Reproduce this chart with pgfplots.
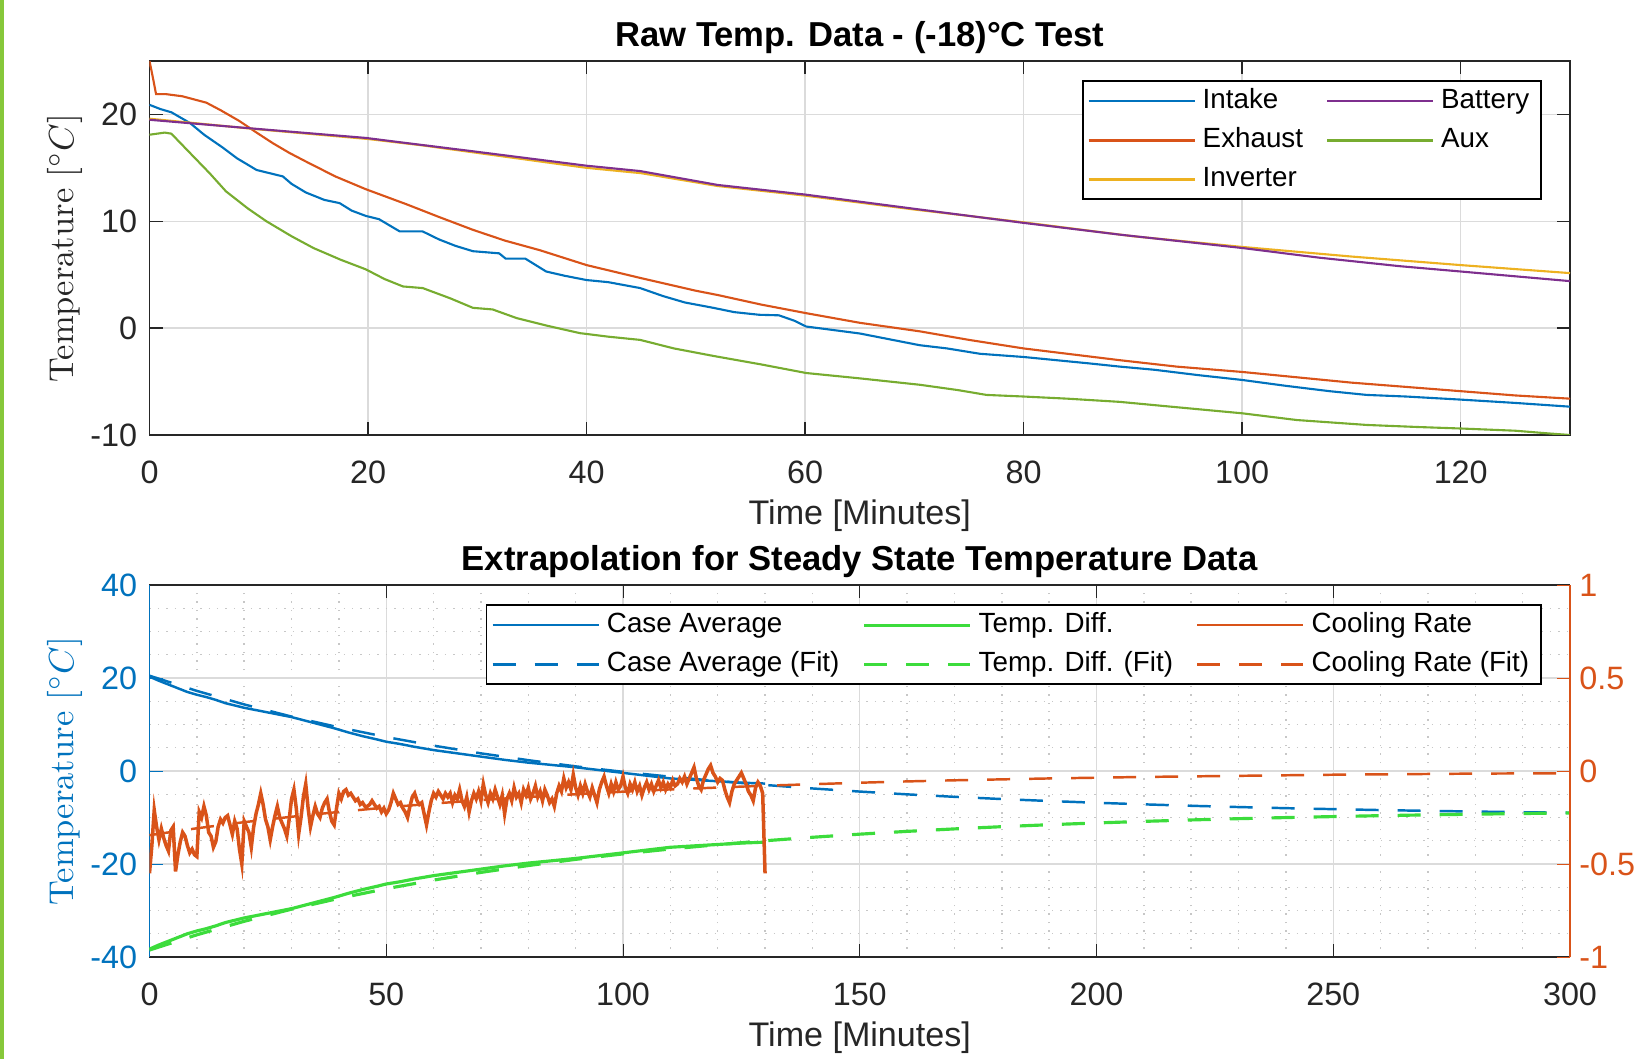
\documentclass[border=0pt]{standalone}
\usepackage{fontspec}
\setsansfont{Liberation Sans}
\usepackage{pgfplots}
\pgfplotsset{compat=1.18}
\definecolor{mblue}{HTML}{0072BD}
\definecolor{morange}{HTML}{D95319}
\definecolor{myellow}{HTML}{EDB120}
\definecolor{mpurple}{HTML}{7E2F8E}
\definecolor{mgreen}{HTML}{77AC30}
\definecolor{tgreen}{HTML}{3CDC3C}
\definecolor{mdark}{HTML}{262626}
\definecolor{lborder}{HTML}{86C83A}

\pgfplotsset{
  mlab/.style={scale only axis, width=142.05mm, anchor=south west,
    tick align=inside, major tick length=1.3mm, minor tick length=0mm,
    every axis title shift=0pt,
    /pgf/number format/assume math mode=true,
    tick label style={font=\sffamily\fontsize{9.2}{10}\selectfont, text=mdark},
    xticklabel style={yshift=-1.4mm},
    yticklabel style={xshift=0mm},
    xlabel style={font=\sffamily\fontsize{9.7}{11}\selectfont, text=mdark,
      at={(axis description cs:0.5,0)}, anchor=center, yshift=-8.1mm},
    ylabel style={font=\rmfamily\fontsize{9.8}{11}\selectfont,
      at={(axis description cs:0,0.5)}, anchor=center, yshift=8.5mm},
    title style={font=\sffamily\bfseries\fontsize{9.85}{11}\selectfont, text=black,
      at={(axis description cs:0.5,1)}, anchor=center, yshift=2.3mm},
    legend style={font=\sffamily\fontsize{7.9}{9}\selectfont, draw=black, line width=0.5pt,
      at={(1,1)}, anchor=north east, xshift=-2.8mm, yshift=-1.95mm,
      inner ysep=0pt, inner xsep=1.4pt,
      /tikz/every even column/.append style={column sep=1.6mm}},
    legend cell align=left,
    legend image code/.code={\draw[#1] (0mm,0mm) -- (10.6mm,0mm);},
  },
  fit/.style={dash pattern=on 2.3mm off 1.9mm},
}

\begin{document}
\begin{tikzpicture}
\path[use as bounding box] (0,0) rectangle (163.9mm,105.9mm);
\fill[lborder] (0,0) rectangle (0.45mm,105.9mm);

% top: raw temperatures
\begin{axis}[mlab, at={(14.95mm,62.4mm)}, height=37.4mm,
  xmin=0, xmax=130, ymin=-10, ymax=25,
  xtick={0,20,...,120}, ytick={-10,0,10,20},
  grid=major, major grid style={draw=black!14},
  axis line style={draw=mdark}, every tick/.style={draw=mdark},
  title={Raw Temp. Data - (-18)°C Test},
  xlabel={Time [Minutes]}, ylabel={Temperature $[^\circ C]$},
  ylabel style={text=mdark},
  legend columns=2]
\addlegendimage{mblue, line width=0.6pt}\addlegendentry{Intake}
\addlegendimage{mpurple, line width=0.6pt}\addlegendentry{Battery}
\addlegendimage{morange, line width=0.6pt}\addlegendentry{Exhaust}
\addlegendimage{mgreen, line width=0.6pt}\addlegendentry{Aux}
\addlegendimage{myellow, line width=0.6pt}\addlegendentry{Inverter}
% Intake
\addplot[mblue, line width=0.6pt, forget plot] coordinates {
(0,20.9) (1,20.5) (2,20.2) (3.7,19.2) (5,18.1) (6.7,16.9) (8,15.9) (9.8,14.8) (11,14.5)
(12.2,14.2) (13,13.5) (14.3,12.7) (16,12.0) (17.4,11.7) (18.5,11.0) (19.8,10.5) (21,10.2)
(22.9,9.05) (25,9.05) (26.5,8.3) (28,7.7) (29.6,7.2) (32,7.0) (32.6,6.5) (34.4,6.5) (36.3,5.3)
(38,4.9) (40,4.5) (42,4.3) (44.9,3.75) (47,3.0) (49,2.4) (51.6,1.9) (53.5,1.5) (55.8,1.25)
(57.6,1.2) (59,0.7) (60.1,0.15) (62,-0.1) (65,-0.5) (68,-1.1) (70.5,-1.6) (73,-1.9) (76,-2.4)
(80,-2.7) (83,-3.0) (86,-3.3) (88.8,-3.6) (92,-3.9) (96,-4.4) (100,-4.85) (104,-5.4)
(108,-5.9) (111.4,-6.25) (115,-6.4) (120.2,-6.7) (125,-7.0) (130,-7.35)};
% Exhaust
\addplot[morange, line width=0.6pt, forget plot] coordinates {
(0,25.0) (0.3,23.5) (0.6,21.9) (1.5,21.9) (3,21.7) (5.2,21.1) (6.5,20.4) (8.2,19.4) (9.8,18.3)
(11.3,17.3) (12.8,16.4) (14.3,15.6) (17,14.2) (19.8,13.0) (23.5,11.6) (26.5,10.4) (29.6,9.2)
(32.5,8.2) (35.7,7.3) (40,5.9) (44.9,4.7) (50,3.5) (52,3.1) (56,2.2) (60.1,1.4) (65,0.5)
(70.5,-0.3) (75,-1.1) (80,-1.9) (84,-2.4) (88.8,-3.0) (94,-3.6) (100,-4.1) (105,-4.6)
(110,-5.1) (115,-5.5) (120,-5.9) (125,-6.3) (130,-6.6)};
% Inverter
\addplot[myellow, line width=0.6pt, forget plot] coordinates {
(0,19.6) (10,18.6) (20,17.7) (25,17.1) (30,16.4) (40,15.0) (45,14.5) (52,13.3) (60,12.4)
(70,11.1) (80,9.9) (90,8.6) (100,7.6) (110,6.7) (120,5.9) (130,5.15)};
% Battery
\addplot[mpurple, line width=0.6pt, forget plot] coordinates {
(0,19.5) (9.8,18.65) (19.8,17.8) (22.9,17.4) (29.6,16.55) (40,15.2) (44.9,14.7) (52,13.4)
(60,12.5) (70.5,11.1) (80,9.85) (88.8,8.75) (100,7.5) (107,6.6) (114.4,5.8) (120,5.3)
(125,4.85) (130,4.4)};
% Aux
\addplot[mgreen, line width=0.6pt, forget plot] coordinates {
(0,18.1) (1.4,18.3) (2,18.2) (3.7,16.4) (5.5,14.5) (7,12.8) (9,11.2) (10.7,10.0) (13,8.6)
(15,7.5) (17.5,6.4) (19.8,5.5) (21.5,4.6) (23.2,3.9) (25,3.75) (27.5,2.8) (29.6,1.9)
(31.4,1.75) (33.6,0.94) (36.5,0.2) (39.4,-0.47) (42,-0.8) (44.9,-1.1) (48,-1.9) (51.6,-2.6)
(56,-3.4) (60.1,-4.2) (65,-4.7) (70.5,-5.3) (74,-5.8) (76.6,-6.25) (80,-6.4) (84,-6.6)
(88.8,-6.9) (94,-7.4) (100,-7.97) (105,-8.6) (111.4,-9.06) (116,-9.25) (120.2,-9.4)
(125,-9.6) (128,-9.85) (130,-10)};
\end{axis}

% bottom: left axis (temperatures)
\begin{axis}[mlab, at={(14.95mm,10.2mm)}, height=37.2mm,
  xmin=0, xmax=300, ymin=-40, ymax=40,
  xtick={0,50,...,300}, ytick={-40,-20,0,20,40},
  minor x tick num=4, minor y tick num=3,
  ytick pos=left, separate axis lines,
  x axis line style={draw=mdark}, y axis line style={draw=mblue},
  xtick style={draw=mdark}, ytick style={draw=mblue},
  yticklabel style={text=mblue},
  grid=both, major grid style={draw=black!14}, minor grid style={draw=black!22, dotted},
  title={Extrapolation for Steady State Temperature Data},
  xlabel={Time [Minutes]}, ylabel={Temperature $[^\circ C]$},
  ylabel style={text=mblue}]
% Case Average
\addplot[mblue, line width=0.7pt] coordinates {
(0,20.3) (2,19.4) (4,18.6) (6,17.8) (8,17.0) (10,16.4) (12,15.9) (14,15.3) (16,14.6) (18,14.1)
(20,13.6) (22,13.2) (24,12.8) (26,12.4) (28,12.0) (30,11.6) (33,10.8) (36,10.0) (39,9.2)
(42,8.3) (45,7.5) (48,6.8) (50,6.3) (53,5.8) (56,5.2) (60,4.5) (65,3.8) (70,3.1) (75,2.4)
(80,1.8) (85,1.3) (90,0.8) (95,0.2) (100,-0.4) (105,-1.0) (110,-1.6) (115,-1.9) (120,-2.2)
(125,-2.5) (130,-2.7)};
% Case Average (Fit)
\addplot[mblue, line width=0.7pt, fit] coordinates {
(0,20.5) (10,17.23) (20,14.32) (30,11.71) (40,9.39) (50,7.31) (60,5.46) (70,3.80) (80,2.33)
(90,1.00) (100,-0.17) (110,-1.23) (120,-2.16) (130,-3.00) (140,-3.75) (150,-4.42) (160,-5.02)
(170,-5.55) (180,-6.03) (190,-6.45) (200,-6.83) (210,-7.17) (220,-7.48) (230,-7.75)
(240,-7.99) (250,-8.20) (260,-8.40) (270,-8.57) (280,-8.72) (290,-8.86) (300,-8.98)};
% Temp. Diff.
\addplot[tgreen, line width=0.9pt] coordinates {
(0,-38.3) (2,-37.4) (4,-36.6) (6,-35.8) (8,-35.0) (10,-34.4) (12,-33.9) (14,-33.3) (16,-32.6)
(18,-32.1) (20,-31.6) (22,-31.2) (24,-30.8) (26,-30.4) (28,-30.0) (30,-29.6) (33,-28.8)
(36,-28.0) (39,-27.2) (42,-26.3) (45,-25.5) (48,-24.8) (50,-24.3) (53,-23.8) (56,-23.2)
(60,-22.5) (65,-21.8) (70,-21.1) (75,-20.4) (80,-19.8) (85,-19.3) (90,-18.8) (95,-18.2)
(100,-17.6) (105,-17.0) (110,-16.4) (115,-16.1) (120,-15.8) (125,-15.5) (130,-15.3)};
% Temp. Diff. (Fit)
\addplot[tgreen, line width=0.9pt, fit] coordinates {
(0,-38.5) (10,-35.23) (20,-32.32) (30,-29.71) (40,-27.39) (50,-25.31) (60,-23.46) (70,-21.80)
(80,-20.33) (90,-19.00) (100,-17.83) (110,-16.77) (120,-15.84) (130,-15.00) (140,-14.25)
(150,-13.58) (160,-12.98) (170,-12.45) (180,-11.97) (190,-11.55) (200,-11.17) (210,-10.83)
(220,-10.52) (230,-10.25) (240,-10.01) (250,-9.80) (260,-9.60) (270,-9.43) (280,-9.28)
(290,-9.14) (300,-9.02)};
\end{axis}

% bottom: right axis (cooling rate)
\begin{axis}[mlab, at={(14.95mm,10.2mm)}, height=37.2mm,
  xmin=0, xmax=300, ymin=-1, ymax=1,
  ytick={-1,-0.5,0,0.5,1},
  axis x line=none, axis y line*=right,
  y axis line style={draw=morange}, ytick style={draw=morange},
  yticklabel style={text=morange, xshift=-0.3mm},
  legend columns=3]
\addlegendimage{mblue, line width=0.7pt}\addlegendentry{Case Average}
\addlegendimage{tgreen, line width=0.9pt}\addlegendentry{Temp. Diff.}
\addlegendimage{morange, line width=0.7pt}\addlegendentry{Cooling Rate}
\addlegendimage{mblue, line width=0.7pt, fit}\addlegendentry{Case Average (Fit)}
\addlegendimage{tgreen, line width=0.9pt, fit}\addlegendentry{Temp. Diff. (Fit)}
\addlegendimage{morange, line width=0.7pt, fit}\addlegendentry{Cooling Rate (Fit)}
% Cooling Rate (Fit)
\addplot[morange, line width=0.7pt, fit, forget plot] coordinates {
(0,-0.345) (10,-0.308) (20,-0.275) (30,-0.246) (40,-0.220) (50,-0.196) (60,-0.175)
(70,-0.156) (80,-0.140) (90,-0.125) (100,-0.111) (110,-0.099) (120,-0.089) (130,-0.079)
(140,-0.071) (150,-0.063) (160,-0.056) (170,-0.050) (180,-0.045) (190,-0.040) (200,-0.036)
(210,-0.032) (220,-0.029) (230,-0.026) (240,-0.023) (250,-0.020) (260,-0.018) (270,-0.016)
(280,-0.014) (290,-0.013) (300,-0.012)};
% Cooling Rate
\addplot[morange, line width=1pt, forget plot] coordinates {
(0,-0.55) (0.5,-0.40) (1,-0.21) (1.5,-0.30) (2,-0.37) (2.5,-0.31) (3,-0.36) (3.5,-0.40)
(4,-0.43) (4.5,-0.32) (5,-0.30) (5.5,-0.54) (6,-0.45) (6.5,-0.38) (7,-0.33) (7.5,-0.35)
(8,-0.40) (8.5,-0.44) (9,-0.42) (9.5,-0.45) (10,-0.46) (10.5,-0.22) (11,-0.25) (11.5,-0.19)
(12,-0.24) (12.5,-0.33) (13,-0.35) (13.5,-0.41) (14,-0.38) (14.5,-0.30) (15,-0.26)
(15.5,-0.28) (16,-0.25) (16.5,-0.24) (17,-0.29) (17.5,-0.34) (18,-0.27) (18.5,-0.31)
(19,-0.42) (19.5,-0.50) (20,-0.27) (20.5,-0.30) (21,-0.33) (21.5,-0.41) (22,-0.30)
(22.5,-0.23) (23,-0.18) (23.5,-0.12) (24,-0.18) (24.5,-0.26) (25,-0.30) (25.5,-0.37)
(26,-0.30) (26.5,-0.24) (27,-0.19) (27.5,-0.25) (28,-0.28) (28.5,-0.31) (29,-0.35)
(29.5,-0.26) (30,-0.15) (30.5,-0.10) (31,-0.20) (31.5,-0.34) (32,-0.25) (32.5,-0.14)
(33,-0.07) (33.5,-0.20) (34,-0.30) (34.5,-0.24) (35,-0.19) (35.5,-0.23) (36,-0.25)
(36.5,-0.20) (37,-0.17) (37.5,-0.15) (38,-0.22) (38.5,-0.27) (39,-0.29) (39.5,-0.20)
(40,-0.12) (40.5,-0.15) (41,-0.11) (41.5,-0.10) (42,-0.13) (42.5,-0.12) (43,-0.14)
(43.5,-0.16) (44,-0.15) (44.5,-0.18) (45,-0.17) (45.5,-0.19) (46,-0.19) (46.5,-0.18)
(47,-0.16) (47.5,-0.18) (48,-0.20) (48.5,-0.19) (49,-0.22) (49.5,-0.20) (50,-0.23)
(50.5,-0.21) (51,-0.17) (51.5,-0.12) (52,-0.15) (52.5,-0.18) (53,-0.17) (53.5,-0.20)
(54,-0.22) (54.5,-0.25) (55,-0.19) (55.5,-0.14) (56,-0.12) (56.5,-0.16) (57,-0.18)
(57.5,-0.17) (58,-0.23) (58.5,-0.29) (59,-0.22) (59.5,-0.16) (60,-0.12) (60.5,-0.14)
(61,-0.11) (61.5,-0.13) (62,-0.15) (62.5,-0.12) (63,-0.14) (63.5,-0.12) (64,-0.17)
(64.5,-0.13) (65,-0.15) (65.5,-0.10) (66,-0.16) (66.5,-0.19) (67,-0.14) (67.5,-0.22)
(68,-0.16) (68.5,-0.12) (69,-0.15) (69.5,-0.11) (70,-0.16) (70.5,-0.07) (71,-0.13)
(71.5,-0.17) (72,-0.12) (72.5,-0.15) (73,-0.10) (73.5,-0.14) (74,-0.18) (74.5,-0.13)
(75,-0.23) (75.5,-0.15) (76,-0.12) (76.5,-0.16) (77,-0.09) (77.5,-0.14) (78,-0.12)
(78.5,-0.17) (79,-0.10) (79.5,-0.13) (80,-0.09) (80.5,-0.15) (81,-0.12) (81.5,-0.08)
(82,-0.14) (82.5,-0.11) (83,-0.16) (83.5,-0.10) (84,-0.13) (84.5,-0.17) (85,-0.15)
(85.5,-0.19) (86,-0.12) (86.5,-0.08) (87,-0.11) (87.5,-0.04) (88,-0.09) (88.5,-0.06)
(89,-0.10) (89.5,-0.02) (90,-0.09) (90.5,-0.13) (91,-0.08) (91.5,-0.12) (92,-0.07)
(92.5,-0.11) (93,-0.14) (93.5,-0.09) (94,-0.13) (94.5,-0.17) (95,-0.10) (95.5,-0.06)
(96,-0.03) (96.5,-0.08) (97,-0.12) (97.5,-0.07) (98,-0.11) (98.5,-0.06) (99,-0.10)
(99.5,-0.08) (100,-0.03) (100.5,-0.09) (101,-0.12) (101.5,-0.07) (102,-0.10) (102.5,-0.06)
(103,-0.11) (103.5,-0.08) (104,-0.13) (104.5,-0.09) (105,-0.06) (105.5,-0.10) (106,-0.07)
(106.5,-0.11) (107,-0.08) (107.5,-0.05) (108,-0.09) (108.5,-0.06) (109,-0.10) (109.5,-0.07)
(110,-0.09) (110.5,-0.05) (111,-0.08) (111.5,-0.07) (112,-0.04) (112.5,-0.06) (113,-0.03)
(113.5,-0.07) (114,-0.04) (114.5,-0.01) (115,0.02) (115.5,-0.04) (116,-0.08) (116.5,-0.10)
(117,-0.05) (117.5,-0.02) (118,0.01) (118.5,0.03) (119,-0.01) (119.5,-0.03) (120,-0.06)
(120.5,-0.04) (121,-0.05) (121.5,-0.10) (122,-0.14) (122.5,-0.17) (123,-0.11) (123.5,-0.07)
(124,-0.05) (124.5,-0.03) (125,-0.01) (125.5,-0.04) (126,-0.07) (126.5,-0.11) (127,-0.13)
(127.5,-0.16) (128,-0.09) (128.5,-0.06) (129,-0.08) (129.5,-0.12) (130,-0.55)};
\end{axis}
\end{tikzpicture}
\end{document}
